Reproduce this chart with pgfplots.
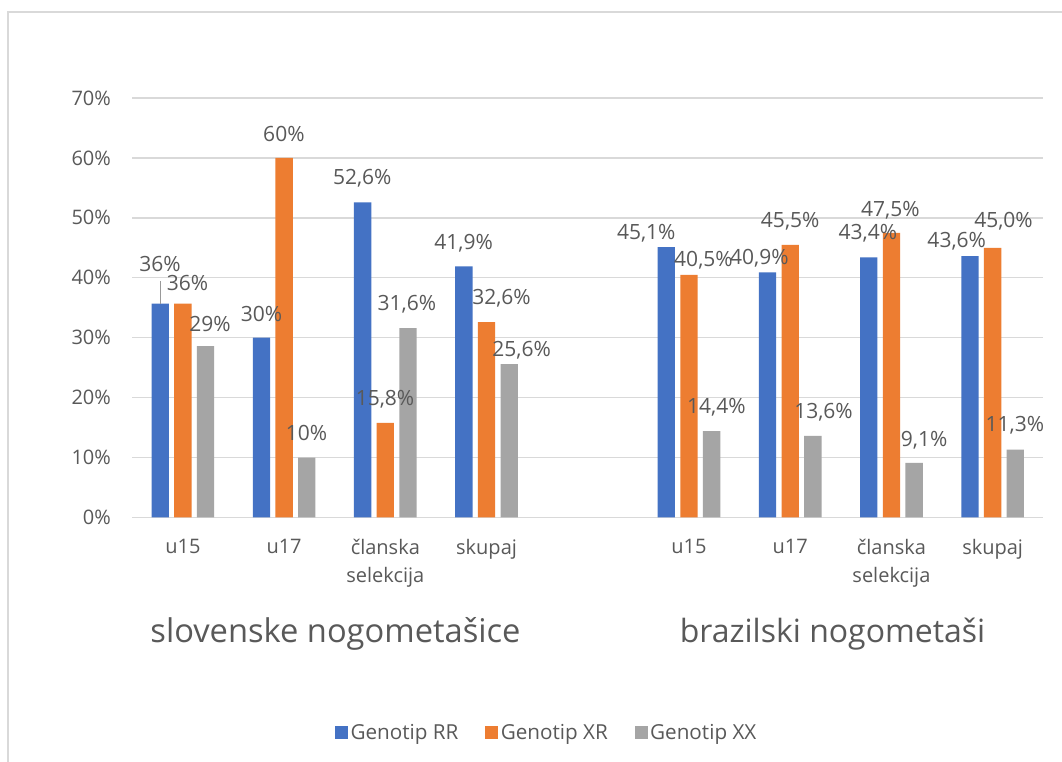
\documentclass[border=0pt]{standalone}
\usepackage{fontspec}
\setmainfont{Open Sans}
\usepackage{pgfplots}
\pgfplotsset{compat=1.18}

\definecolor{rrblue}{HTML}{4472C4}
\definecolor{xrorange}{HTML}{ED7D31}
\definecolor{xxgray}{HTML}{A5A5A5}
\definecolor{gridgray}{HTML}{D9D9D9}
\definecolor{txtgray}{HTML}{595959}

\tikzset{lbl/.style={font=\fontsize{15.75}{18}\selectfont, text=txtgray, inner sep=0pt, anchor=center}}

\begin{document}
\begin{tikzpicture}[x=1pt,y=1pt]
\useasboundingbox (0,0) rectangle (796.5,571.5);
\fill[white] (0,0) rectangle (796.5,571.5);
% frame of the chart area
\draw[gridgray, line width=1pt] (6,-3) -- (6,562.5) -- (800,562.5);

\begin{axis}[
  at={(99.2pt,183.4pt)}, anchor=south west,
  scale only axis, width=683.25pt, height=314.6pt,
  ybar=4pt, bar width=13pt,
  xmin=-0.5, xmax=8.5, ymin=0, ymax=70,
  clip=false,
  xtick={0,1,2,3,5,6,7,8},
  xticklabels={u15,u17,{članska\\selekcija},skupaj,u15,u17,{članska\\selekcija},skupaj},
  ytick={0,10,...,70},
  yticklabel={\pgfmathprintnumber{\tick}\%},
  /pgf/number format/assume math mode=true,
  axis line style={draw=none},
  major tick length=0pt,
  ymajorgrids, grid style={gridgray, line width=1pt},
  tick label style={font=\fontsize{15}{21}\selectfont, text=txtgray},
  xticklabel style={align=center, yshift=-12.5pt},
  yticklabel style={xshift=-12.5pt},
  legend columns=3,
  legend style={draw=none, fill=none, font=\fontsize{15.5}{18}\selectfont, text=txtgray,
    at={(0.4552,-0.5137)}, anchor=center,
    /tikz/every even column/.append style={column sep=18pt}},
  legend image code/.code={\fill[#1] (0pt,-4.875pt) rectangle (9.75pt,4.875pt);},
]
% slovenske nogometasice: 0..3, brazilski nogometasi: 5..8
\addplot[fill=rrblue, draw=none] coordinates
  {(0,35.7) (1,30) (2,52.6) (3,41.9) (5,45.1) (6,40.9) (7,43.4) (8,43.6)};
\addplot[fill=xrorange, draw=none] coordinates
  {(0,35.7) (1,60) (2,15.8) (3,32.6) (5,40.5) (6,45.5) (7,47.5) (8,45.0)};
\addplot[fill=xxgray, draw=none] coordinates
  {(0,28.6) (1,10) (2,31.6) (3,25.6) (5,14.4) (6,13.6) (7,9.1) (8,11.3)};
\legend{Genotip RR, Genotip XR, Genotip XX}

% value labels
\draw[black!40, line width=0.75pt] (axis cs:-0.223,35.7) -- (axis cs:-0.223,39.5);
\node[lbl] at (axis cs:-0.225,42.25) {36\%};
\node[lbl] at (axis cs:0.046,39.08) {36\%};
\node[lbl] at (axis cs:0.267,32.25) {29\%};
\node[lbl] at (axis cs:0.777,33.92) {30\%};
\node[lbl] at (axis cs:0.998,63.92) {60\%};
\node[lbl] at (axis cs:1.222,14.08) {10\%};
\node[lbl] at (axis cs:1.772,56.58) {52,6\%};
\node[lbl] at (axis cs:1.997,19.75) {15,8\%};
\node[lbl] at (axis cs:2.213,35.58) {31,6\%};
\node[lbl] at (axis cs:2.773,45.75) {41,9\%};
\node[lbl] at (axis cs:3.148,36.58) {32,6\%};
\node[lbl] at (axis cs:3.346,27.92) {25,6\%};
\node[lbl] at (axis cs:4.578,47.5) {45,1\%};
\node[lbl] at (axis cs:5.143,43.0) {40,5\%};
\node[lbl] at (axis cs:5.270,18.47) {14,4\%};
\node[lbl] at (axis cs:5.696,43.33) {40,9\%};
\node[lbl] at (axis cs:6.0,49.5) {45,5\%};
\node[lbl] at (axis cs:6.329,17.63) {13,6\%};
\node[lbl] at (axis cs:6.768,47.42) {43,4\%};
\node[lbl] at (axis cs:6.990,51.25) {47,5\%};
\node[lbl] at (axis cs:7.323,12.92) {9,1\%};
\node[lbl] at (axis cs:7.645,46.08) {43,6\%};
\node[lbl] at (axis cs:8.107,49.42) {45,0\%};
\node[lbl] at (axis cs:8.220,15.42) {11,3\%};
\end{axis}

% group captions
\node[font=\fontsize{24.5}{28}\selectfont, text=txtgray, anchor=base] at (251.6,89.25) {slovenske nogometašice};
\node[font=\fontsize{24}{28}\selectfont, text=txtgray, anchor=base] at (624.4,89.25) {brazilski nogometaši};
\end{tikzpicture}
\end{document}
